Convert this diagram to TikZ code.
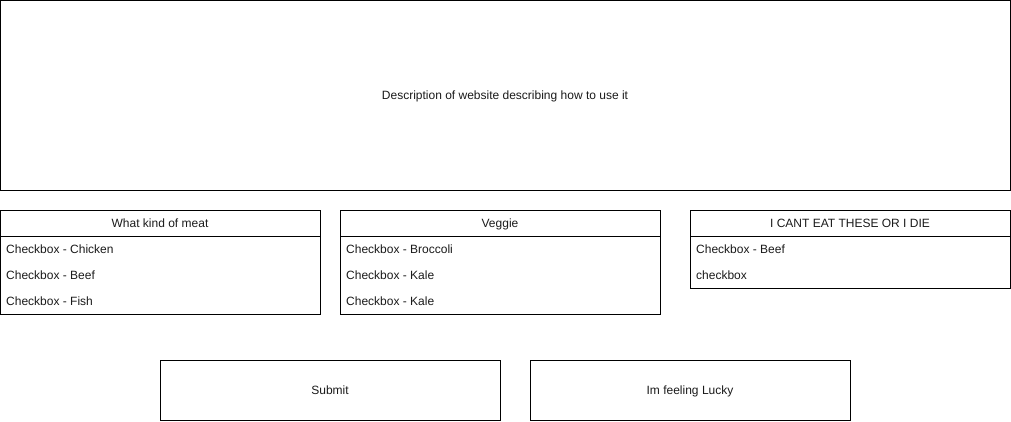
\documentclass[tikz,border=0pt]{standalone}
\usepackage{fontspec}
\setmainfont{Liberation Sans}
\definecolor{TextGrey}{HTML}{1A1A1A}

\begin{document}
\begin{tikzpicture}[x = 1pt, y = -1pt]
                    \useasboundingbox (0, 0) rectangle (1011, 421);

                    \tikzset{
                        panel/.style = {
                            shape        = rectangle,
                            draw         = black,
                            line width   = 1pt,
                            inner sep    = 0pt,
                            text height  = 10pt,
                            text depth   = 2pt,
                            text         = TextGrey,
                            font         = \fontsize{12}{14}\selectfont,
                        },
                        entry/.style = {
                            anchor       = west,
                            inner sep    = 0pt,
                            text height  = 9pt,
                            text depth   = 0pt,
                            text         = TextGrey,
                            font         = \fontsize{12}{14}\selectfont,
                        },
                    }

                    % description
                    \node (Desc) at (505, 95) [panel, minimum width = 1010pt, minimum height = 190pt] {Description of website describing how to use it};

                    % lists
                    \node (Meat)   at (160, 262) [panel, minimum width = 320pt, minimum height = 104pt] {};
                    \node (MeatH)  at (160, 223) [panel, minimum width = 320pt, minimum height = 26pt] {What kind of meat};
                    \node (Veg)    at (500, 262) [panel, minimum width = 320pt, minimum height = 104pt] {};
                    \node (VegH)   at (500, 223) [panel, minimum width = 320pt, minimum height = 26pt] {Veggie};
                    \node (Allergy)  at (850, 249) [panel, minimum width = 320pt, minimum height = 78pt] {};
                    \node (AllergyH) at (850, 223) [panel, minimum width = 320pt, minimum height = 26pt] {I CANT EAT THESE OR I DIE};

                    \node (Chicken)  at (6, 249)   [entry] {Checkbox - Chicken};
                    \node (Beef)     at (6, 275)   [entry] {Checkbox - Beef};
                    \node (Fish)     at (6, 301)   [entry] {Checkbox - Fish};
                    \node (Broccoli) at (346, 249) [entry] {Checkbox - Broccoli};
                    \node (KaleA)    at (346, 275) [entry] {Checkbox - Kale};
                    \node (KaleB)    at (346, 301) [entry] {Checkbox - Kale};
                    \node (NoBeef)   at (696, 249) [entry] {Checkbox - Beef};
                    \node (NoOther)  at (696, 275) [entry] {checkbox};

                    % buttons
                    \node (Submit) at (330, 390) [panel, minimum width = 340pt, minimum height = 60pt] {Submit};
                    \node (Lucky)  at (690, 390) [panel, minimum width = 320pt, minimum height = 60pt] {Im feeling Lucky};
                \end{tikzpicture}
\end{document}
